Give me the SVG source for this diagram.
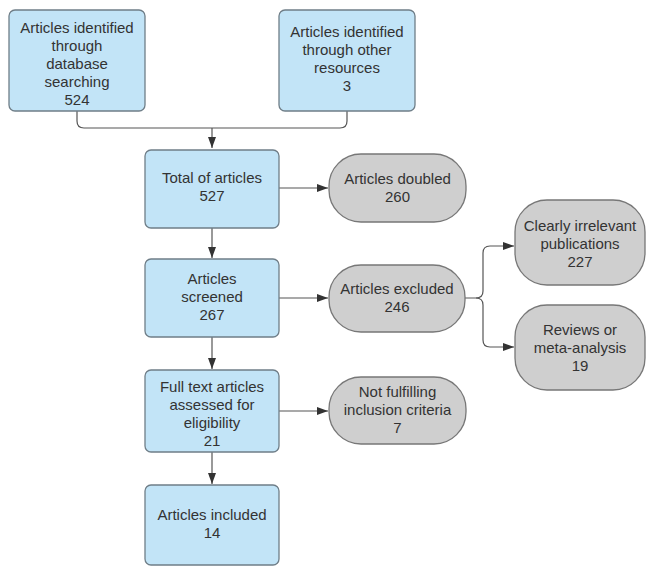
<svg xmlns="http://www.w3.org/2000/svg" width="646" height="567" viewBox="0 0 646 567">
<defs>
<marker id="ah" markerWidth="11" markerHeight="8" refX="11" refY="4" orient="auto" markerUnits="userSpaceOnUse">
<path d="M0,0 L11,4 L0,8 z" fill="#333"/>
</marker>
<style>
.blue{fill:#c2e4f7;stroke:#6f7e88;stroke-width:1.3}
.gray{fill:#cfcfcf;stroke:#777;stroke-width:1.3}
.t{font-family:"Liberation Sans",Arial,sans-serif;font-size:15px;fill:#333;text-anchor:middle}
.c{fill:none;stroke:#555;stroke-width:1.2}
</style>
</defs>
<rect width="646" height="567" fill="#fff"/>
<g id="connectors">
<path class="c" d="M77,111 V121 Q77,128 84,128 H340 Q347,128 347,121 V111"/>
<path class="c" d="M212,128 V148" marker-end="url(#ah)"/>
<path class="c" d="M279,188 H328" marker-end="url(#ah)"/>
<path class="c" d="M212,228 V258" marker-end="url(#ah)"/>
<path class="c" d="M279,298 H328" marker-end="url(#ah)"/>
<path class="c" d="M465,298 H476 Q483,298 483,291 V253 Q483,246 490,246 H514" marker-end="url(#ah)"/>
<path class="c" d="M476,298 Q483,298 483,305 V340 Q483,347 490,347 H514" marker-end="url(#ah)"/>
<path class="c" d="M212,337 V369" marker-end="url(#ah)"/>
<path class="c" d="M279,411 H328" marker-end="url(#ah)"/>
<path class="c" d="M212,452 V484" marker-end="url(#ah)"/>
</g>
<g id="n1">
<rect class="blue" x="9" y="10" width="136" height="101" rx="6"/>
<text class="t" x="77" y="33">Articles identified</text>
<text class="t" x="77" y="51">through</text>
<text class="t" x="77" y="69">database</text>
<text class="t" x="77" y="87">searching</text>
<text class="t" x="77" y="105">524</text>
</g>
<g id="n2">
<rect class="blue" x="279" y="10" width="136" height="101" rx="6"/>
<text class="t" x="347" y="37">Articles identified</text>
<text class="t" x="347" y="55">through other</text>
<text class="t" x="347" y="73">resources</text>
<text class="t" x="347" y="91">3</text>
</g>
<g id="n3">
<rect class="blue" x="145" y="150" width="134" height="78" rx="6"/>
<text class="t" x="212" y="183">Total of articles</text>
<text class="t" x="212" y="201">527</text>
</g>
<g id="n4">
<rect class="gray" x="329" y="154" width="137" height="68" rx="32"/>
<text class="t" x="397.5" y="184">Articles doubled</text>
<text class="t" x="397.5" y="202">260</text>
</g>
<g id="n5">
<rect class="blue" x="145" y="259" width="134" height="78" rx="6"/>
<text class="t" x="212" y="284">Articles</text>
<text class="t" x="212" y="302">screened</text>
<text class="t" x="212" y="320">267</text>
</g>
<g id="n6">
<rect class="gray" x="329" y="265" width="136" height="67" rx="32"/>
<text class="t" x="397" y="294">Articles excluded</text>
<text class="t" x="397" y="312">246</text>
</g>
<g id="n7">
<rect class="gray" x="515" y="200" width="130" height="85" rx="32"/>
<text class="t" x="580" y="231">Clearly irrelevant</text>
<text class="t" x="580" y="249">publications</text>
<text class="t" x="580" y="267">227</text>
</g>
<g id="n8">
<rect class="gray" x="515" y="305" width="130" height="85" rx="32"/>
<text class="t" x="580" y="335">Reviews or</text>
<text class="t" x="580" y="353">meta-analysis</text>
<text class="t" x="580" y="371">19</text>
</g>
<g id="n9">
<rect class="blue" x="145" y="370" width="134" height="82" rx="6"/>
<text class="t" x="212" y="392">Full text articles</text>
<text class="t" x="212" y="410">assessed for</text>
<text class="t" x="212" y="428">eligibility</text>
<text class="t" x="212" y="446">21</text>
</g>
<g id="n10">
<rect class="gray" x="329" y="377" width="137" height="67" rx="32"/>
<text class="t" x="397.5" y="397">Not fulfilling</text>
<text class="t" x="397.5" y="415">inclusion criteria</text>
<text class="t" x="397.5" y="433">7</text>
</g>
<g id="n11">
<rect class="blue" x="145" y="485" width="134" height="80" rx="6"/>
<text class="t" x="212" y="520">Articles included</text>
<text class="t" x="212" y="538">14</text>
</g>
</svg>
